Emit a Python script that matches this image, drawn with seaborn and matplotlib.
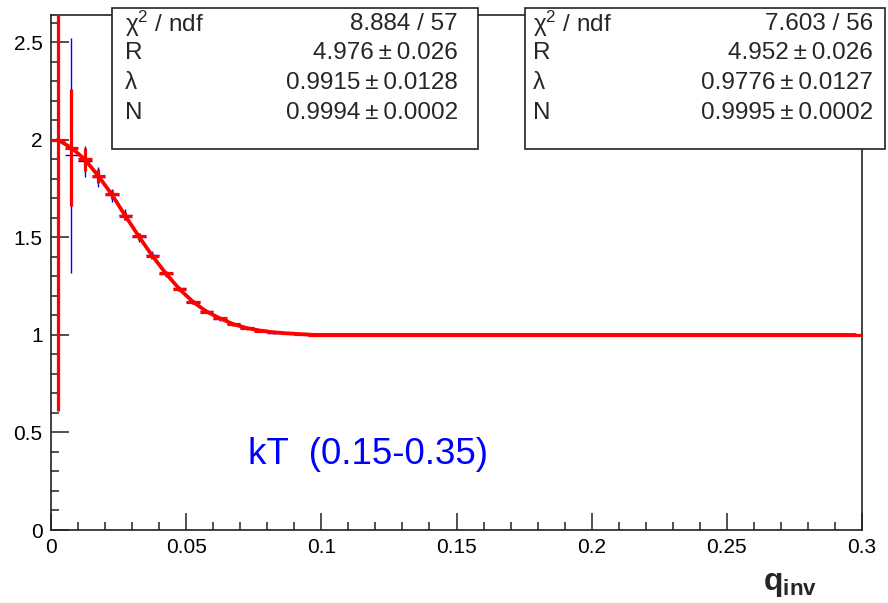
import numpy as np
import matplotlib
matplotlib.use("Agg")
import matplotlib.pyplot as plt
import seaborn as sns
from matplotlib.patches import Rectangle
from matplotlib.ticker import MultipleLocator, FuncFormatter

# q_inv binning: 60 bins of 0.005 GeV between 0 and 0.3
BIN_WIDTH = 0.005
bin_edges = np.linspace(0.0, 0.3, 61)
q_centers = (bin_edges[:-1] + bin_edges[1:]) / 2

red_head = [2.00, 1.96, 1.90, 1.815, 1.72, 1.61, 1.505, 1.405, 1.315, 1.235,
            1.17, 1.12, 1.085, 1.055, 1.035, 1.022, 1.013, 1.008, 1.004]
red_head_err = [1.39, 0.30, 0.06, 0.035, 0.025, 0.02, 0.017, 0.015, 0.013, 0.011,
                0.010, 0.009, 0.008, 0.007, 0.006, 0.005, 0.004, 0.003, 0.002]
red_tail = [1.0] * 41
red_tail_err = [0.0] * 41

# blue histogram (first bin empty)
blue_head = [np.nan, 1.92, 1.89, 1.81, 1.715, 1.615, 1.50, 1.41, 1.31, 1.24,
             1.168, 1.125, 1.082, 1.057, 1.033, 1.023, 1.012, 1.009, 1.003]
blue_head_err = [np.nan, 0.60, 0.08, 0.05, 0.035, 0.028, 0.022, 0.018, 0.015, 0.013,
                 0.011, 0.010, 0.009, 0.008, 0.007, 0.006, 0.005, 0.004, 0.003]
blue_tail = [1.0] * 41
blue_tail_err = [0.0] * 41

red_vals = np.array(red_head + red_tail)
red_err = np.array(red_head_err + red_tail_err)
blue_vals = np.array(blue_head + blue_tail)
blue_err = np.array(blue_head_err + blue_tail_err)

# fit results shown in the two stat boxes
PM = "\u2009\u00b1\u2009"
stat_labels = ["\u03c7$^{2}$ / ndf", "R", "\u03bb", "N"]
stats_left = ["8.884 / 57", "4.976" + PM + "0.026", "0.9915" + PM + "0.0128", "0.9994" + PM + "0.0002"]
stats_right = ["7.603 / 56", "4.952" + PM + "0.026", "0.9776" + PM + "0.0127", "0.9995" + PM + "0.0002"]

sns.set_style("ticks")
plt.rcParams['font.family'] = ['Liberation Sans', 'DejaVu Sans']
plt.rcParams['mathtext.fontset'] = 'custom'
plt.rcParams['mathtext.rm'] = 'Liberation Sans'
plt.rcParams['mathtext.it'] = 'Liberation Sans:italic'
plt.rcParams['mathtext.bf'] = 'Liberation Sans:bold'

W, H = 888, 603
fig = plt.figure(figsize=(W / 100, H / 100), dpi=100)
ax = fig.add_axes([51 / W, 1 - 530 / H, (862 - 51) / W, (530 - 15) / H])

# blue histogram underneath
ax.errorbar(q_centers, blue_vals, yerr=blue_err, xerr=BIN_WIDTH / 2, fmt='none',
            ecolor='#0000ff', elinewidth=1.0, capsize=0, zorder=2)

# red histogram + curve through it
ax.errorbar(q_centers, red_vals, yerr=red_err, xerr=BIN_WIDTH / 2, fmt='none',
            ecolor='#ff0000', elinewidth=2.3, capsize=0, zorder=3)
sns.lineplot(x=q_centers, y=red_vals, color='#ff0000', linewidth=2.7, ax=ax,
             zorder=4, legend=False)

ax.set_xlim(0, 0.3)
ax.set_ylim(0, 2.64)
ax.set_xlabel("")
ax.set_ylabel("")

ax.xaxis.set_major_locator(MultipleLocator(0.05))
ax.xaxis.set_minor_locator(MultipleLocator(0.01))
ax.yaxis.set_major_locator(MultipleLocator(0.5))
ax.yaxis.set_minor_locator(MultipleLocator(0.1))
fmt = FuncFormatter(lambda v, p: f"{v:g}")
ax.xaxis.set_major_formatter(fmt)
ax.yaxis.set_major_formatter(fmt)

ax.tick_params(axis='both', which='both', direction='in', top=False, right=False,
               width=1.1, colors='#222222', labelcolor='black', labelsize=15)
ax.tick_params(axis='y', which='major', length=13, pad=6)
ax.tick_params(axis='y', which='minor', length=6)
ax.tick_params(axis='x', which='major', length=12, pad=6)
ax.tick_params(axis='x', which='minor', length=6)
for side in ax.spines.values():
    side.set_linewidth(1.2)
    side.set_color('#222222')

ax.text(0.073, 0.385, "kT  (0.15-0.35)", color='#0000ff', fontsize=26.5,
        ha='left', va='center')

fig.text(817 / W, 1 - 590 / H, r"$\mathbf{q}_{\mathbf{inv}}$", fontsize=23,
         ha='right', va='baseline')

# stat boxes
row_y = [24, 53, 83, 113]
boxes = [(112, 478, 125, 458, stats_left), (525, 885, 533, 873, stats_right)]
for x0, x1, lx, rx, vals in boxes:
    fig.add_artist(Rectangle((x0 / W, 1 - 149 / H), (x1 - x0) / W, (149 - 8) / H,
                             transform=fig.transFigure, facecolor='white',
                             edgecolor='#222222', linewidth=1.2, zorder=10))
    for yy, lab, val in zip(row_y, stat_labels, vals):
        fig.text(lx / W, 1 - yy / H, lab, fontsize=17.5, ha='left', va='center', zorder=11)
        fig.text(rx / W, 1 - yy / H, val, fontsize=17.5, ha='right', va='center', zorder=11)

fig.savefig("out.png", dpi=100)
